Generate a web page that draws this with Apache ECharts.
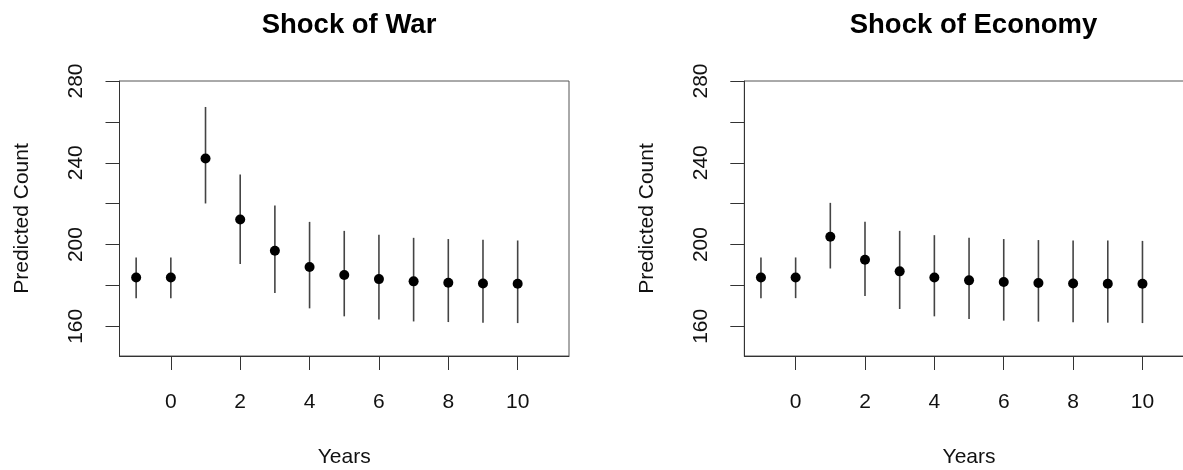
<!DOCTYPE html>
<html>
<head>
<meta charset="utf-8">
<script src="https://cdn.jsdelivr.net/npm/echarts@6/dist/echarts.min.js"></script>
<style>
html,body{margin:0;padding:0;background:#fff;}
#c{width:1183px;height:470px;}
</style>
</head>
<body>
<div id="c"></div>
<script>
const years = [-1, 0, 1, 2, 3, 4, 5, 6, 7, 8, 9, 10];
const warMean  = [183.9, 183.9, 242.1, 212.3, 197.0, 189.0, 185.1, 183.1, 182.0, 181.3, 181.0, 180.8];
const warUpper = [193.7, 193.7, 267.3, 234.3, 219.1, 211.1, 206.7, 204.8, 203.3, 202.7, 202.3, 202.0];
const warLower = [173.8, 173.8, 220.1, 190.5, 176.3, 168.8, 164.9, 163.4, 162.4, 162.1, 161.8, 161.6];
const econMean  = [183.9, 183.9, 203.8, 192.6, 186.9, 183.9, 182.5, 181.7, 181.2, 181.0, 180.8, 180.8];
const econUpper = [193.7, 193.7, 220.4, 211.1, 206.7, 204.6, 203.3, 202.7, 202.2, 202.0, 202.0, 201.8];
const econLower = [173.8, 173.8, 188.3, 174.8, 168.5, 164.9, 163.6, 162.8, 162.3, 162.0, 161.8, 161.6];
const xTicks = [0, 2, 4, 6, 8, 10];
const yTicks = [160, 180, 200, 220, 240, 260, 280];
const yLabels = [160, 200, 240, 280];
const titles = ['Shock of War', 'Shock of Economy'];

const FONT = '"Liberation Sans", Arial, Helvetica, sans-serif';
const chart = echarts.init(document.getElementById('c'), null, {renderer: 'canvas'});

const grids = [
  {left: 119.5, top: 81, width: 449.5, height: 275},
  {left: 744.3, top: 81, width: 449.5, height: 275}
];

function xAxisCfg(i) {
  return {
    type: 'value', gridIndex: i, min: -1.48, max: 11.48,
    name: 'Years', nameLocation: 'middle', nameGap: 91,
    nameTextStyle: {fontFamily: FONT, fontSize: 21, color: '#111'},
    axisLine: {show: true, onZero: false, lineStyle: {color: '#333', width: 1}},
    axisTick: {show: true, length: 14, inside: false, customValues: xTicks, lineStyle: {color: '#333', width: 1}},
    axisLabel: {show: true, customValues: xTicks, margin: 36, fontFamily: FONT, fontSize: 21, color: '#111'},
    splitLine: {show: false}
  };
}
function yAxisCfg(i) {
  return {
    type: 'value', gridIndex: i, min: 145.5, max: 280,
    name: 'Predicted Count', nameLocation: 'middle', nameGap: 87, nameRotate: 90,
    nameTextStyle: {fontFamily: FONT, fontSize: 21, color: '#111'},
    axisLine: {show: true, onZero: false, lineStyle: {color: '#333', width: 1}},
    axisTick: {show: true, length: 14, inside: false, customValues: yTicks, lineStyle: {color: '#333', width: 1}},
    axisLabel: {show: true, customValues: yLabels, rotate: 90, margin: 33, fontFamily: FONT, fontSize: 21, color: '#111'},
    splitLine: {show: false}
  };
}

function barSeries(i, lower, upper) {
  return {
    type: 'custom', xAxisIndex: i, yAxisIndex: i,
    data: years.map((y, k) => [y, lower[k], upper[k]]),
    renderItem: function (params, api) {
      const p1 = api.coord([api.value(0), api.value(1)]);
      const p2 = api.coord([api.value(0), api.value(2)]);
      return {type: 'line', shape: {x1: p1[0], y1: p1[1], x2: p2[0], y2: p2[1]},
              style: {stroke: '#444', lineWidth: 1.6}};
    },
    z: 2, silent: true
  };
}
function ptSeries(i, mean) {
  return {
    type: 'scatter', xAxisIndex: i, yAxisIndex: i,
    data: years.map((y, k) => [y, mean[k]]),
    symbol: 'circle', symbolSize: 10,
    itemStyle: {color: '#000', opacity: 1}, z: 3, silent: true
  };
}

chart.setOption({
  backgroundColor: '#fff',
  animation: false,
  title: [
    {text: titles[0], left: 344, top: 6, textAlign: 'center',
     textStyle: {fontFamily: FONT, fontSize: 27.5, fontWeight: 'bold', color: '#000'}},
    {text: titles[1], left: 968.5, top: 6, textAlign: 'center',
     textStyle: {fontFamily: FONT, fontSize: 27.5, fontWeight: 'bold', color: '#000'}}
  ],
  grid: grids.map(g => Object.assign({show: true, borderColor: '#555', borderWidth: 1,
    backgroundColor: 'transparent', containLabel: false, outerBoundsMode: 'none'}, g)),
  xAxis: [xAxisCfg(0), xAxisCfg(1)],
  yAxis: [yAxisCfg(0), yAxisCfg(1)],
  series: [
    barSeries(0, warLower, warUpper), ptSeries(0, warMean),
    barSeries(1, econLower, econUpper), ptSeries(1, econMean)
  ]
});
</script>
</body>
</html>
